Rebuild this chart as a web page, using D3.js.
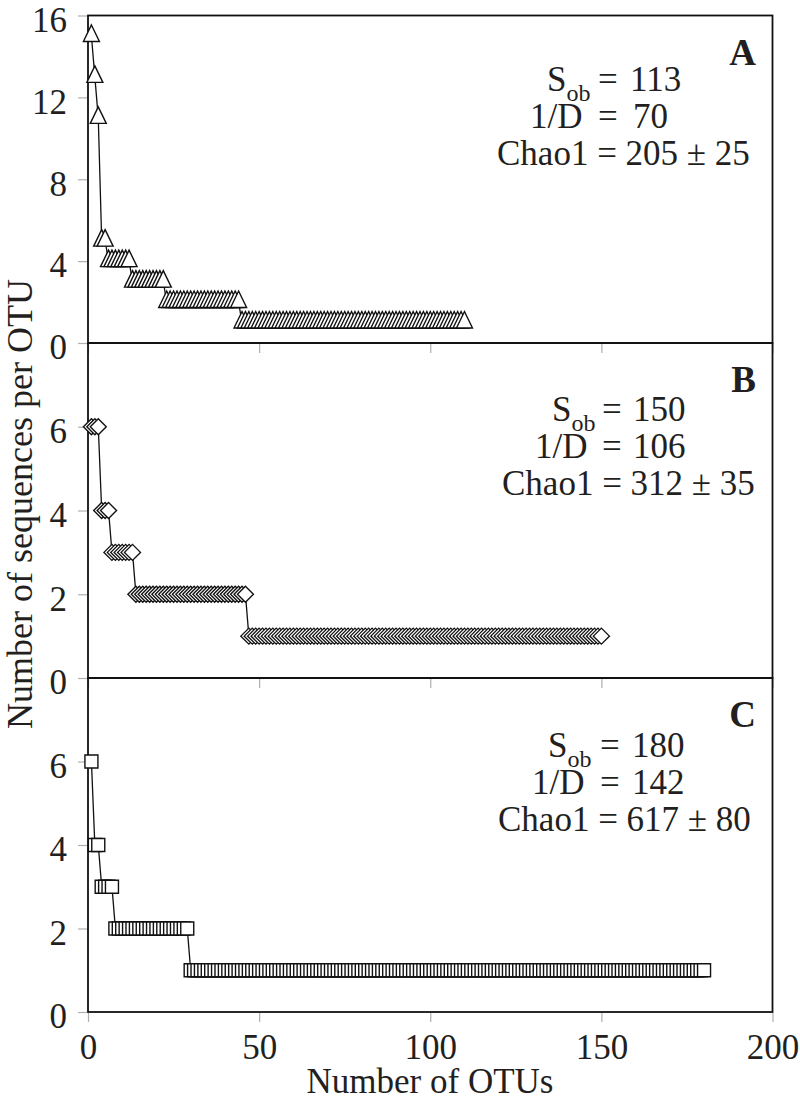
<!DOCTYPE html>
<html><head><meta charset="utf-8">
<script src="https://cdn.jsdelivr.net/npm/d3@7"></script>
<style>
body{margin:0;background:#fff}
text{font-family:"Liberation Serif","Times New Roman",serif;fill:#231f20}
</style>
</head><body><svg id="c" width="800" height="1103"></svg>
<script>
// ---- data ----
const panelLabels = ["A", "B", "C"];
// rank-abundance: sequences per OTU level and number of OTUs at that level
const levelsA = [15, 13, 11, 5, 4, 3, 2, 1];
const countsA = [1, 1, 1, 2, 7, 10, 22, 66];
const levelsB = [6, 4, 3, 2, 1];
const countsB = [3, 3, 7, 33, 104];
const levelsC = [6, 4, 3, 2, 1];
const countsC = [1, 2, 4, 22, 151];
const yMaxes = [16, 8, 8];
const yTicksA = [0, 4, 8, 12, 16];
const yTicksBC = [0, 2, 4, 6];
const xTicks = [0, 50, 100, 150, 200];
const statSob = ["113", "150", "180"];
const statInvD = ["70", "106", "142"];
const statChao = ["205", "312", "617"];
const statChaoErr = ["25", "35", "80"];

// ---- layout ----
const svg = d3.select("#c");
const left = 88, right = 772.5;
const tops = [15.5, 343, 678], bottoms = [343, 678, 1012];
const x = d3.scaleLinear().domain([0, 200]).range([left, right]);
const markerPaths = [
  "M0,-11L8,5.5L-8,5.5Z",
  "M0,-8L8,0L0,8L-8,0Z",
  "M-6.5,-6.5h13v13h-13Z"
];
const annOff = [75, 78, 79];
const eqX = [598, 602, 600];
const val1X = [630, 633, 632];
const val2X = [633, 633, 632];
const sX = [547, 552, 548];
const dX = [530, 535, 532];
const chaoX = [497, 502, 498];

function expand(levels, counts) {
  const out = [];
  levels.forEach((v, i) => { for (let k = 0; k < counts[i]; k++) out.push(v); });
  return out.map((v, i) => ({ rank: i + 1, value: v }));
}
const series = [expand(levelsA, countsA), expand(levelsB, countsB), expand(levelsC, countsC)];

series.forEach((data, i) => {
  const y = d3.scaleLinear().domain([0, yMaxes[i]]).range([bottoms[i], tops[i]]);
  const g = svg.append("g");
  const yTicks = i === 0 ? yTicksA : yTicksBC;

  // y ticks (grey, outside)
  const yAxis = d3.axisLeft(y).tickValues(yTicks).tickSize(9).tickPadding(11).tickFormat(d3.format("d"));
  const ya = g.append("g").attr("transform", `translate(${left - 1},0)`).call(yAxis);
  ya.select(".domain").remove();
  ya.selectAll(".tick line").attr("stroke", "#b0b0b0").attr("stroke-width", 1.2);
  ya.selectAll(".tick text").attr("font-size", 35).attr("fill", "#231f20")
    .attr("font-family", "'Liberation Serif','Times New Roman',serif").attr("dy", "0.45em");

  // x ticks (grey, outside below each panel)
  const xAxis = d3.axisBottom(x).tickValues(xTicks).tickSize(9).tickPadding(12)
    .tickFormat(i === 2 ? d3.format("d") : "");
  const xa = g.append("g").attr("transform", `translate(0,${bottoms[i] + 1})`).call(xAxis);
  xa.select(".domain").remove();
  xa.selectAll(".tick line").attr("stroke", "#b0b0b0").attr("stroke-width", 1.2);
  xa.selectAll(".tick text").attr("font-size", 35).attr("fill", "#231f20")
    .attr("font-family", "'Liberation Serif','Times New Roman',serif").attr("dy", "0.71em");

  // frame
  g.append("rect").attr("x", left).attr("y", tops[i]).attr("width", right - left)
    .attr("height", bottoms[i] - tops[i]).attr("fill", "none").attr("stroke", "#111").attr("stroke-width", 1.8);

  // connecting line
  g.append("path").datum(data)
    .attr("d", d3.line().x(d => x(d.rank)).y(d => y(d.value)))
    .attr("fill", "none").attr("stroke", "#111").attr("stroke-width", 1.3);

  // markers, drawn in rank order so each covers the previous
  g.selectAll("path.m").data(data).join("path").attr("class", "m")
    .attr("d", markerPaths[i])
    .attr("transform", d => `translate(${x(d.rank)},${y(d.value)})`)
    .attr("fill", "#fff").attr("stroke", "#111").attr("stroke-width", 1.4);

  // panel letter
  g.append("text").attr("x", 756).attr("y", tops[i] + 49).attr("text-anchor", "end")
    .attr("font-size", 37).attr("font-weight", "bold").text(panelLabels[i]);

  // statistics
  const b1 = tops[i] + annOff[i], b2 = b1 + 37, b3 = b1 + 74;
  const t1 = g.append("text").attr("x", sX[i]).attr("y", b1).attr("font-size", 35);
  t1.append("tspan").text("S");
  t1.append("tspan").attr("font-size", 24).attr("dy", 10).text("ob");
  t1.append("tspan").attr("x", eqX[i]).attr("dy", -10).text("=");
  t1.append("tspan").attr("x", val1X[i]).text(statSob[i]);

  const t2 = g.append("text").attr("x", dX[i]).attr("y", b2).attr("font-size", 35);
  t2.append("tspan").text("1/D");
  t2.append("tspan").attr("x", eqX[i]).text("=");
  t2.append("tspan").attr("x", val2X[i]).text(statInvD[i]);

  g.append("text").attr("x", chaoX[i]).attr("y", b3).attr("font-size", 35)
    .text(`Chao1 = ${statChao[i]} \u00B1 ${statChaoErr[i]}`);
});

// axis titles
svg.append("text").attr("x", 430).attr("y", 1093).attr("text-anchor", "middle")
  .attr("font-size", 35).text("Number of OTUs");
svg.append("text").attr("transform", "translate(32,504) rotate(-90)").attr("text-anchor", "middle")
  .attr("font-size", 36).text("Number of sequences per OTU");
</script>
</body></html>
